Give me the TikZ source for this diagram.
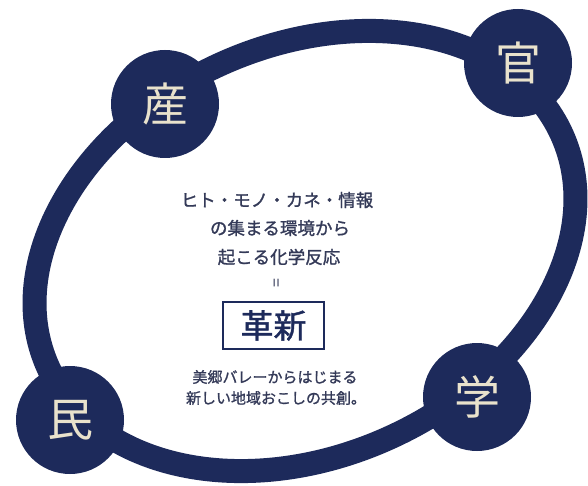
\documentclass[tikz,border=0pt]{standalone}
\usepackage{fontspec}
\newfontfamily\cjk{Noto Sans CJK JP}
\newfontfamily\cjkb[FakeBold=1.2]{Noto Sans CJK JP}
\definecolor{navy}{HTML}{1D2A5B}
\definecolor{cream}{HTML}{E9E2CC}
\definecolor{ink}{HTML}{343A58}
\tikzset{
  ring/.style={draw=navy, line width=24pt},
  hub/.style={circle, fill=navy, minimum size=108pt, inner sep=0pt, text=cream, font=\cjk\fontsize{46}{46}\selectfont},
  body/.style={text=ink, font=\cjkb\fontsize{17.5}{17.5}\selectfont, inner sep=0pt},
  small/.style={text=ink, font=\cjkb\fontsize{15}{15}\selectfont, inner sep=0pt},
  keybox/.style={draw=navy, line width=2pt, minimum width=101pt, minimum height=47pt, text=navy, inner sep=0pt, font=\cjkb\fontsize{33}{33}\selectfont}
}
\begin{document}
\begin{tikzpicture}[x=1pt,y=1pt]
\useasboundingbox (0,0) rectangle (588,485);
\clip (0,0) rectangle (588,485);
\fill[white] (0,0) rectangle (588,485);
\draw[ring, rotate around={24.4:(305,234)}] (305,234) ellipse [x radius=282, y radius=205];
\node[hub] (san) at (165,381) {産};
\node[hub] (kan) at (518,422) {官};
\node[hub] (min) at (70,65) {民};
\node[hub] (gaku) at (477,88) {学};
\node[body] (l1) at (277,285) {ヒト・モノ・カネ・情報};
\node[body] (l2) at (280,257) {の集まる環境から};
\node[body] (l3) at (279,228) {起こる化学反応};
\node[body, rotate=90, font=\cjk\fontsize{16}{16}\selectfont] (eq) at (278,202) {=};
\node[keybox] (kakushin) at (273.5,159.5) {革新};
\node[small] (l4) at (275,108) {美郷バレーからはじまる};
\node[small] (l5) at (276,87) {新しい地域おこしの共創。};
\end{tikzpicture}
\end{document}
